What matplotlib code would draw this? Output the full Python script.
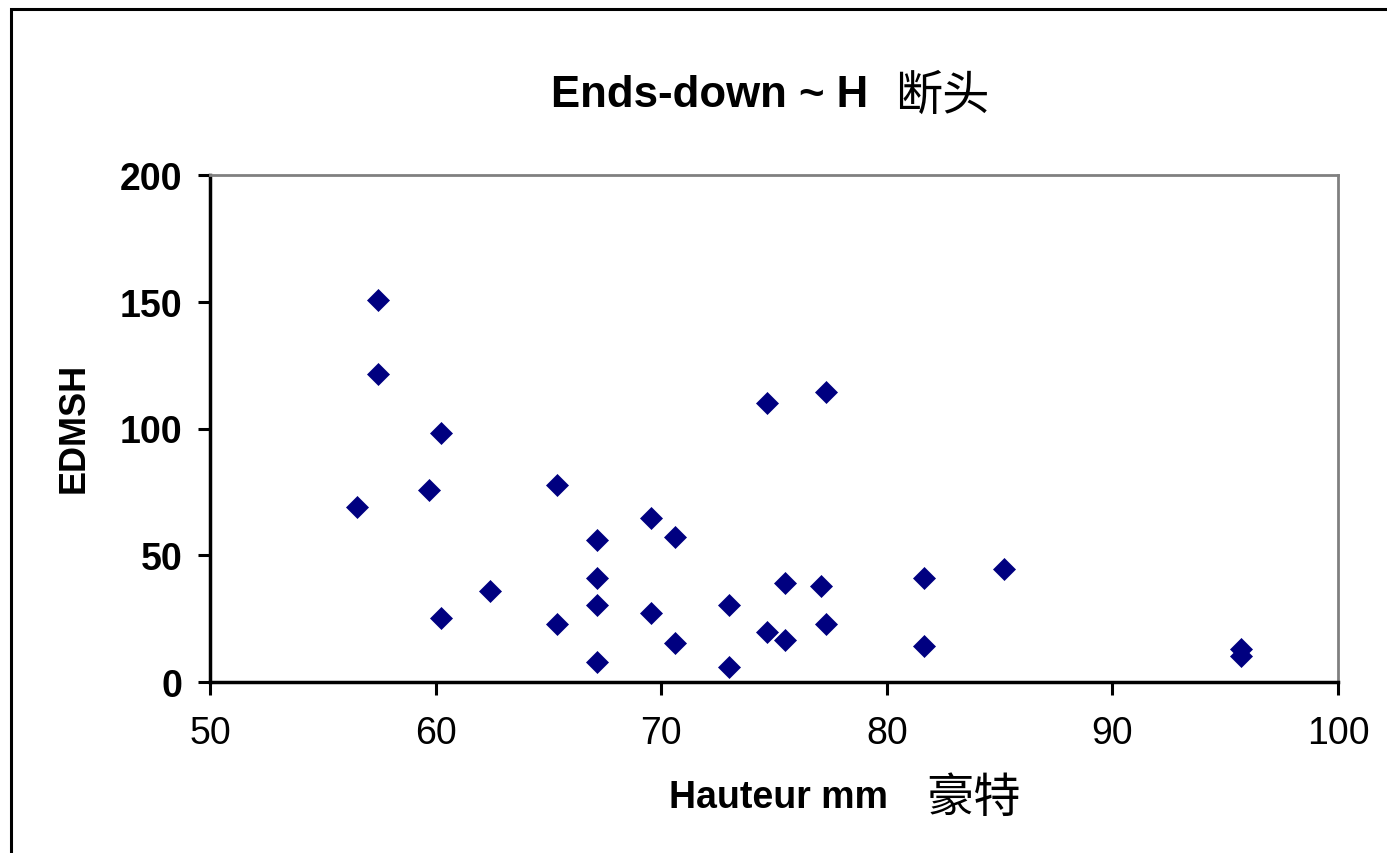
import matplotlib.pyplot as plt
from matplotlib.patches import Rectangle

# ---- data ----
hauteur = [57.45, 57.45, 56.5, 60.24, 59.7, 60.24, 62.4, 65.4, 65.4,
           67.15, 67.15, 67.15, 67.15, 69.55, 69.55, 70.6, 70.6,
           73.0, 73.0, 74.7, 74.7, 75.5, 75.5, 77.3, 77.1, 77.3,
           81.65, 81.65, 85.2, 95.7, 95.7]
edmsh = [150.7, 121.5, 69.0, 98.2, 75.7, 25.2, 35.9, 77.7, 22.9,
         56.0, 41.0, 30.4, 7.9, 64.7, 27.2, 57.2, 15.4,
         30.4, 5.9, 110.0, 19.7, 39.0, 16.6, 114.4, 37.9, 22.9,
         41.0, 14.2, 44.6, 13.0, 10.3]
x_ticks = [50, 60, 70, 80, 90, 100]
y_ticks = [0, 50, 100, 150, 200]

W, H = 1387, 854
fig = plt.figure(figsize=(W / 100, H / 100), dpi=100)
ax = fig.add_axes([210 / W, 1 - 683 / H, (1338 - 210) / W, (683 - 176) / H])

ax.plot(hauteur, edmsh, linestyle='none', marker='D', markersize=11,
        color='#000080', markeredgecolor='#000080', markeredgewidth=0.5,
        clip_on=False)

ax.set_xlim(50, 100)
ax.set_ylim(0, 200)
ax.set_xticks(x_ticks)
ax.set_yticks(y_ticks)
ax.tick_params(axis='both', direction='out', length=9, width=2.2, color='black')
ax.tick_params(axis='x', labelsize=27, pad=15)
ax.tick_params(axis='y', labelsize=27, pad=11)
for lab in ax.get_xticklabels():
    lab.set_fontfamily('Liberation Sans')
for lab in ax.get_yticklabels():
    lab.set_fontfamily('Liberation Sans')
    lab.set_fontweight('bold')

for side in ['left', 'bottom']:
    ax.spines[side].set_color('black')
    ax.spines[side].set_linewidth(2.5)
for side in ['top', 'right']:
    ax.spines[side].set_color('#808080')
    ax.spines[side].set_linewidth(2)

# title: latin part bold, chinese part regular
fig.text(868 / W, 1 - 107 / H, 'Ends-down ~ H', ha='right', va='baseline',
         fontsize=31.5, fontweight='bold', family='Liberation Sans')
fig.text(895 / W, 1 - 110 / H, '断头', ha='left', va='baseline',
         fontsize=34, family=['Noto Sans CJK SC', 'DejaVu Sans'])

# x label
fig.text(888 / W, 1 - 808 / H, 'Hauteur mm', ha='right', va='baseline',
         fontsize=27, fontweight='bold', family='Liberation Sans')
fig.text(926 / W, 1 - 812 / H, '豪特', ha='left', va='baseline',
         fontsize=34, family=['Noto Sans CJK SC', 'DejaVu Sans'])

# y label
fig.text(74 / W, 1 - 428 / H, 'EDMSH', ha='center', va='center', rotation=90,
         fontsize=26, fontweight='bold', family='Liberation Sans')

# outer chart border (cut off at right and bottom)
fig.patches.append(Rectangle((11 / W, -0.1), 1.2, 1 - 10 / H + 0.1,
                             transform=fig.transFigure, fill=False,
                             edgecolor='black', linewidth=2.2))

fig.savefig('out.png', dpi=100)
